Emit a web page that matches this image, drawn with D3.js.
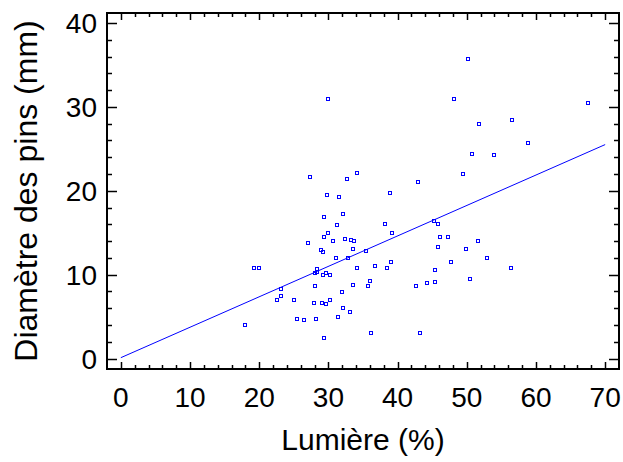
<!DOCTYPE html>
<html>

<head>
  <meta charset="UTF-8">
  <script src="https://d3js.org/d3.v7.js"></script>
  <style>
    body { margin: 0; background: #fff; }
    text { font-family: "Liberation Sans", Arial, sans-serif; fill: #000; }
  </style>
</head>

<body>
  <div id="chart"></div>

  <script>
    // data

    const lumiere = [
      18.0, 19.2, 19.9, 22.6, 23.1, 23.1, 25.0, 25.5, 26.5, 27.1,
      27.4, 27.9, 28.0, 28.1, 28.3, 28.4, 28.2, 29.0, 29.2, 29.1,
      29.2, 29.3, 29.3, 29.4, 29.7, 29.7, 29.8, 29.9, 30.0, 30.2,
      30.3, 30.7, 31.1, 31.3, 31.4, 31.6, 31.9, 32.1, 32.1, 32.4,
      32.7, 32.9, 33.1, 33.2, 33.5, 33.6, 33.7, 34.2, 34.2, 35.5,
      35.7, 36.0, 36.1, 36.8, 38.2, 38.4, 38.9, 39.0, 39.2, 42.6,
      42.9, 43.2, 44.3, 45.3, 45.4, 45.4, 45.8, 45.9, 46.2, 47.3,
      47.7, 48.1, 49.4, 49.9, 50.2, 50.4, 50.7, 51.6, 51.7, 52.9,
      53.9, 56.4, 56.5, 58.8, 67.5
    ];

    const diametre = [
      4.0, 10.8, 10.8, 7.0, 7.4, 8.3, 7.0, 4.7, 4.6, 13.8,
      21.7, 6.6, 8.6, 10.2, 10.3, 10.7, 4.7, 12.9, 12.7, 6.6,
      10.0, 14.5, 2.5, 16.9, 10.2, 6.5, 19.5, 31.0, 15.0, 7.0,
      10.0, 14.0, 12.0, 15.9, 5.0, 19.2, 7.9, 17.2, 6.0, 14.2,
      21.4, 12.0, 5.5, 14.1, 13.1, 8.8, 14.0, 22.1, 10.8, 12.8,
      8.6, 9.3, 3.0, 11.0, 16.0, 10.8, 19.7, 11.5, 15.0, 8.6,
      21.0, 3.0, 9.0, 16.4, 10.5, 9.1, 13.3, 16.0, 14.5, 14.5,
      11.5, 30.9, 22.0, 13.1, 35.7, 9.5, 24.4, 14.0, 28.0, 12.0,
      24.3, 10.8, 28.5, 25.7, 30.5
    ];

    // fitted line
    const lineX = [0, 70];
    const intercept = 0.1;
    const slope = 0.363;

    const xTicks = [0, 10, 20, 30, 40, 50, 60, 70];
    const yTicks = [0, 10, 20, 30, 40];

    const data = lumiere.map((d, i) => ({ x: d, y: diametre[i] }));

    // set up

    const W = 623, H = 462;
    const frame = { left: 107, right: 619, top: 13, bottom: 369 };

    const svg = d3.select('#chart')
      .append('svg')
        .attr('width', W)
        .attr('height', H);

    // scales

    const x = d3.scaleLinear()
        .domain([-2, 72])
        .range([frame.left, frame.right]);

    const y = d3.scaleLinear()
        .domain([-1.25, 41.2])
        .range([frame.bottom, frame.top]);

    // inward ticks on all four sides, minor every 2

    const xMinor = d3.range(0, 71, 2);
    const yMinor = d3.range(0, 41, 2);

    const tickG = svg.append('g')
        .attr('stroke', '#000')
        .attr('stroke-width', 1.5);

    xMinor.forEach(v => {
      const len = v % 10 === 0 ? 7 : 4;
      const px = Math.round(x(v)) + 0.5;
      tickG.append('line')
          .attr('x1', px).attr('x2', px)
          .attr('y1', frame.bottom).attr('y2', frame.bottom - len);
      tickG.append('line')
          .attr('x1', px).attr('x2', px)
          .attr('y1', frame.top).attr('y2', frame.top + len);
    });

    yMinor.forEach(v => {
      const len = v % 10 === 0 ? 10 : 5;
      const py = Math.round(y(v)) + 0.5;
      tickG.append('line')
          .attr('x1', frame.left).attr('x2', frame.left + len)
          .attr('y1', py).attr('y2', py);
      tickG.append('line')
          .attr('x1', frame.right).attr('x2', frame.right - len)
          .attr('y1', py).attr('y2', py);
    });

    // frame
    svg.append('rect')
        .attr('x', frame.left)
        .attr('y', frame.top)
        .attr('width', frame.right - frame.left)
        .attr('height', frame.bottom - frame.top)
        .attr('fill', 'none')
        .attr('stroke', '#000')
        .attr('stroke-width', 2);

    // tick labels

    svg.append('g')
      .selectAll('text')
      .data(xTicks)
      .join('text')
        .attr('x', d => x(d))
        .attr('y', 407)
        .attr('text-anchor', 'middle')
        .attr('font-size', 28)
        .text(d => d);

    svg.append('g')
      .selectAll('text')
      .data(yTicks)
      .join('text')
        .attr('x', 97)
        .attr('y', d => y(d) + 10)
        .attr('text-anchor', 'end')
        .attr('font-size', 28)
        .text(d => d);

    // axis titles

    svg.append('text')
        .attr('x', (frame.left + frame.right) / 2)
        .attr('y', 450)
        .attr('text-anchor', 'middle')
        .attr('font-size', 30)
        .text('Lumière (%)');

    svg.append('text')
        .attr('transform', `translate(37,${(frame.top + frame.bottom) / 2}) rotate(-90)`)
        .attr('text-anchor', 'middle')
        .attr('font-size', 32)
        .text('Diamètre des pins (mm)');

    // regression line

    svg.append('line')
        .attr('x1', x(lineX[0]))
        .attr('y1', y(intercept + slope * lineX[0]))
        .attr('x2', x(lineX[1]))
        .attr('y2', y(intercept + slope * lineX[1]))
        .attr('stroke', '#0000ff')
        .attr('stroke-width', 1);

    // points, snapped to the pixel grid so the little squares stay crisp

    svg.append('g')
        .attr('shape-rendering', 'crispEdges')
      .selectAll('rect')
      .data(data)
      .join('rect')
        .attr('x', d => Math.round(x(d.x)) - 1.5)
        .attr('y', d => Math.round(y(d.y)) - 1.5)
        .attr('width', 3)
        .attr('height', 3)
        .attr('fill', 'none')
        .attr('stroke', '#0000ff')
        .attr('stroke-width', 1);
  </script>
</body>

</html>
